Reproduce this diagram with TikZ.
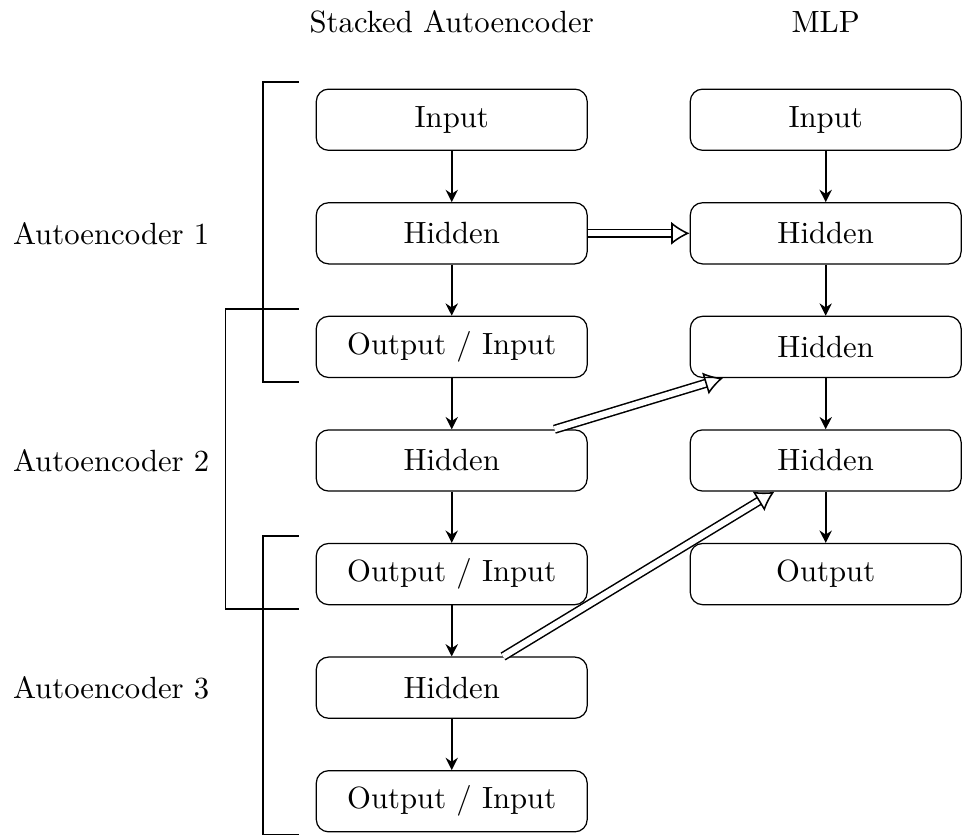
\documentclass[tikz,border=0pt]{standalone}
\usepackage{amsmath,amssymb}
\usepackage{tikz}
\usetikzlibrary{arrows.meta}

\begin{document}
\begin{tikzpicture}[
    box/.style={draw, rounded corners, minimum width=3.1cm, minimum height=0.7cm},
    link/.style={-{Stealth[length=4pt,width=4pt]}, semithick},
    transfer/.style={double, double distance=2pt, line width=0.5pt, -{Latex[open,length=6pt,width=7.5pt]}},
    bracket/.style={semithick}
  ]
    \useasboundingbox (-5.17,-8.2) rectangle (5.84,1.37);

    % Titulos de las columnas
    \node (tsae) at (0,1.12)    {Stacked Autoencoder};
    \node (tmlp) at (4.28,1.12) {MLP};

    % Columna izquierda: autoencoders apilados
    \node[box] (in1) at (0,0)    {Input};
    \node[box] (h1)  at (0,-1.3) {Hidden};
    \node[box] (oi1) at (0,-2.6) {Output / Input};
    \node[box] (h2)  at (0,-3.9) {Hidden};
    \node[box] (oi2) at (0,-5.2) {Output / Input};
    \node[box] (h3)  at (0,-6.5) {Hidden};
    \node[box] (oi3) at (0,-7.8) {Output / Input};

    % Columna derecha: MLP
    \node[box] (min)  at (4.28,0)    {Input};
    \node[box] (mh1)  at (4.28,-1.3) {Hidden};
    \node[box] (mh2)  at (4.28,-2.6) {Hidden};
    \node[box] (mh3)  at (4.28,-3.9) {Hidden};
    \node[box] (mout) at (4.28,-5.2) {Output};

    % Flechas verticales
    \draw[link] (in1) -- (h1);
    \draw[link] (h1)  -- (oi1);
    \draw[link] (oi1) -- (h2);
    \draw[link] (h2)  -- (oi2);
    \draw[link] (oi2) -- (h3);
    \draw[link] (h3)  -- (oi3);
    \draw[link] (min) -- (mh1);
    \draw[link] (mh1) -- (mh2);
    \draw[link] (mh2) -- (mh3);
    \draw[link] (mh3) -- (mout);

    % Pesos que pasan al MLP
    \draw[transfer] (h1) -- (mh1);
    \draw[transfer] (h2) -- (mh2);
    \draw[transfer] (h3) -- (mh3);

    % Etiquetas de cada autoencoder
    \node[anchor=east] (ae1) at (-2.65,-1.3) {Autoencoder 1};
    \node[anchor=east] (ae2) at (-2.65,-3.9) {Autoencoder 2};
    \node[anchor=east] (ae3) at (-2.65,-6.5) {Autoencoder 3};

    % Corchetes
    \draw[bracket] (-1.75,0.43)  -| (-2.16,-3.0)  -- (-1.75,-3.0);
    \draw[bracket] (-1.75,-2.17) -| (-2.59,-5.6)  -- (-1.75,-5.6);
    \draw[bracket] (-1.75,-4.76) -| (-2.16,-8.18) -- (-1.75,-8.18);
  \end{tikzpicture}
\end{document}
